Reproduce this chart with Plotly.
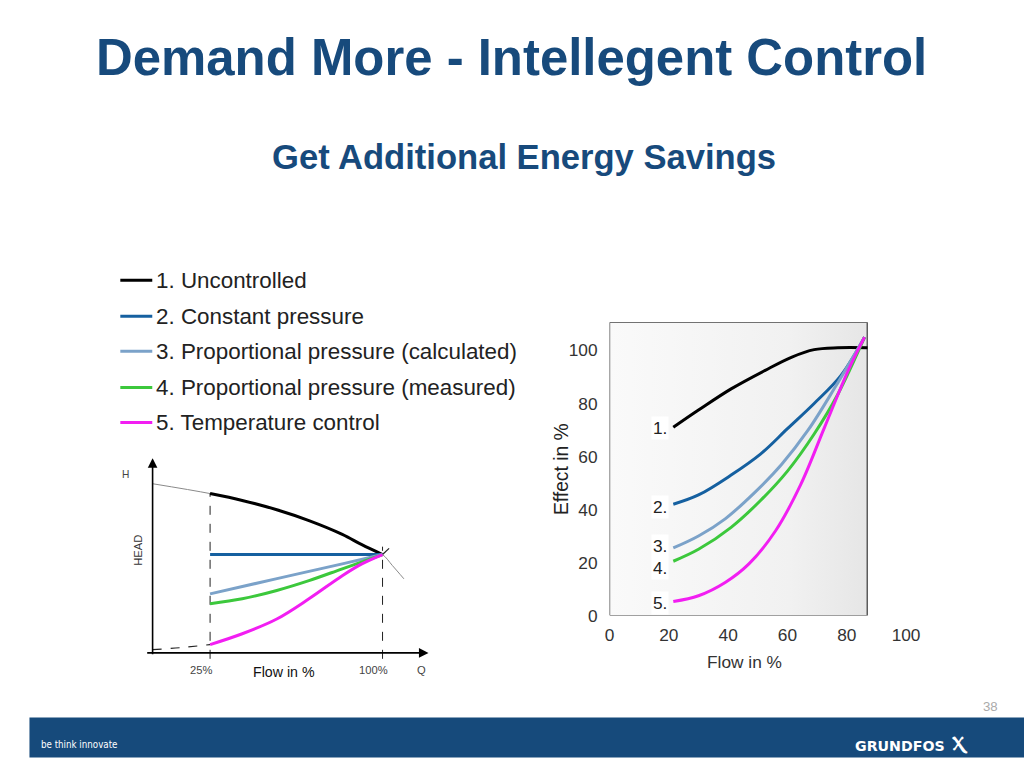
import plotly.graph_objects as go

# ---------------- data ----------------
legend_labels = ["1. Uncontrolled", "2. Constant pressure",
                 "3. Proportional pressure (calculated)",
                 "4. Proportional pressure (measured)", "5. Temperature control"]
colors = ["#000000", "#1560a0", "#7ba2c9", "#3cc83c", "#f21ef2"]

# left schematic: head vs flow
pump_x = [25, 39, 54, 68, 82.5, 91, 100]
pump_y = [162, 155, 145.5, 134.5, 120.5, 110, 100]
pump_full_x = [0, 25, 39, 54, 68, 82.5, 91, 100, 104.3, 109.3]
pump_full_y = [172, 162, 155, 145.5, 134.5, 120.5, 110, 100, 88.8, 75.3]
const_x = [25, 100]
const_y = [100, 100]
propc_x = [25, 53.6, 82.5, 100]
propc_y = [60, 75.3, 90.5, 100]
propm_x = [25, 39, 54, 68, 82.5, 100]
propm_y = [50, 55, 63.5, 73.5, 85.5, 100]
temp_x = [25, 39, 54, 68, 82.5, 91, 100]
temp_y = [8.5, 19.5, 34.5, 55, 78.5, 90.5, 100]
sys_low_x = [0, 12, 25]
sys_low_y = [3.4, 5.3, 8.5]
sys_high_x = [100, 105.7]
sys_high_y = [100, 112.5]
left_ticks = ["25%", "100%"]
left_tick_x = [25, 100]

# right chart: effect vs flow
flow1 = [21.5, 30, 41, 52.5, 61.5, 69, 77, 87]
eff1 = [71, 77.5, 85.5, 92.5, 97.5, 100.3, 101, 101]
flow2 = [21.5, 30, 41, 51, 60, 69, 78, 86]
eff2 = [42, 45.5, 53, 61, 70.5, 80, 90.5, 105]
flow3 = [21.5, 30, 39, 49, 58, 67, 76, 86]
eff3 = [25.5, 30, 36.5, 46.5, 57, 70, 86, 105]
flow4 = [21.5, 30, 41, 51, 60, 69, 77, 86]
eff4 = [20.5, 25, 33.3, 43.5, 54.5, 68.5, 83.5, 105]
flow5 = [21.5, 30, 39, 47, 56, 64.5, 72.5, 80.5, 86]
eff5 = [5.3, 7.5, 12.5, 19.5, 32, 49.5, 71, 92.5, 105]
curve_tags = ["1.", "2.", "3.", "4.", "5."]
tag_y = [70.8, 40.9, 26.4, 18, 4.6]
tag_x = 17.1
x_ticks = [0, 20, 40, 60, 80, 100]
y_ticks = [0, 20, 40, 60, 80, 100]
frame_x = [0, 86.9]
frame_y = [0, 110.6]

FONT = "Liberation Sans, Arial, Helvetica, sans-serif"
TITLE_BLUE = "#174a7c"

# target-pixel -> paper helpers (with a small correction for the capture scaling)
SX, OX, SY = 0.983, 5.5, 0.986

def px(x):
    return ((x - OX) / SX) / 1024

def py(y):
    return 1 - (y / SY) / 768

def fs(s):
    return round(s / SX, 1)

fig = go.Figure()

# ---------- left schematic ----------
L = dict(xaxis="x", yaxis="y", showlegend=False, hoverinfo="skip")
fig.add_trace(go.Scatter(x=pump_full_x, y=pump_full_y, mode="lines",
                         line=dict(color="#8a8a8a", width=1, shape="spline"), **L))
fig.add_trace(go.Scatter(x=[left_tick_x[0]] * 2, y=[-6, pump_y[0]], mode="lines",
                         line=dict(color="#222", width=1, dash="dash"), **L))
fig.add_trace(go.Scatter(x=[left_tick_x[1]] * 2, y=[-6, 108], mode="lines",
                         line=dict(color="#222", width=1, dash="dash"), **L))
fig.add_trace(go.Scatter(x=sys_low_x, y=sys_low_y, mode="lines",
                         line=dict(color="#222", width=1.2, dash="dash", shape="spline"), **L))
fig.add_trace(go.Scatter(x=sys_high_x, y=sys_high_y, mode="lines",
                         line=dict(color="#222", width=1.2, dash="dash"), **L))
left_series = [(pump_x, pump_y), (const_x, const_y), (propc_x, propc_y),
               (propm_x, propm_y), (temp_x, temp_y)]
for (sx, sy), c in zip(left_series, colors):
    fig.add_trace(go.Scatter(x=sx, y=sy, mode="lines",
                             line=dict(color=c, width=3, shape="spline"), **L))

# ---------- right chart ----------
fig.add_trace(go.Scatter(
    x=[frame_x[0], frame_x[1], frame_x[1], frame_x[0], frame_x[0]],
    y=[frame_y[0], frame_y[0], frame_y[1], frame_y[1], frame_y[0]],
    mode="lines", line=dict(color="#444", width=1.3), fill="toself",
    fillgradient=dict(type="horizontal",
                      colorscale=[[0, "#fafafa"], [0.7, "#f1f1f1"], [1, "#e6e6e6"]]),
    xaxis="x2", yaxis="y2", showlegend=False, hoverinfo="skip"))
right_series = [(flow1, eff1), (flow2, eff2), (flow3, eff3), (flow4, eff4), (flow5, eff5)]
for (sx, sy), c, name in zip(right_series, colors, legend_labels):
    fig.add_trace(go.Scatter(x=sx, y=sy, mode="lines", name=name,
                             line=dict(color=c, width=3, shape="spline"),
                             xaxis="x2", yaxis="y2", showlegend=False))

annotations = []
for t, ty in zip(curve_tags, tag_y):
    annotations.append(dict(x=tag_x, y=ty, xref="x2", yref="y2", text=t, showarrow=False,
                            xanchor="center", yanchor="middle",
                            bgcolor="white", font=dict(family=FONT, size=fs(17), color="#222"),
                            borderpad=1))

# axis arrows for left schematic
annotations.append(dict(x=0, y=198, ax=0, ay=-3, xref="x", yref="y", axref="x", ayref="y",
                        text="", showarrow=True, arrowhead=2, arrowsize=1.2, arrowwidth=1.6,
                        arrowcolor="#000"))
annotations.append(dict(x=120, y=0, ax=-3, ay=0, xref="x", yref="y", axref="x", ayref="y",
                        text="", showarrow=True, arrowhead=2, arrowsize=1.2, arrowwidth=1.6,
                        arrowcolor="#000"))
for lx, lt in zip(left_tick_x, left_ticks):
    annotations.append(dict(x=lx - 4, y=py(669), xref="x", yref="paper", text=lt,
                            showarrow=False, xanchor="center", yanchor="middle",
                            font=dict(family=FONT, size=fs(11), color="#444")))

def ptext(x, y, text, size, color, family=FONT, xanchor="center", angle=0):
    return dict(x=px(x), y=py(y), xref="paper", yref="paper", text=text, showarrow=False,
                xanchor=xanchor, yanchor="middle", textangle=angle,
                font=dict(family=family, size=fs(size), color=color))

annotations += [
    ptext(285, 671, "Flow in %", 14, "#111"),
    ptext(423, 669, "Q", 11, "#444"),
    ptext(126, 474, "H", 10, "#444"),
    ptext(138, 550, "HEAD", 11, "#333", angle=-90),
    ptext(563, 469, "Effect in %", 19, "#222", angle=-90),
    ptext(746, 661, "Flow in %", 17, "#333"),
    ptext(512.5, 57, "<b>Demand More - Intellegent Control</b>", 50, TITLE_BLUE),
    ptext(525.5, 157, "<b>Get Additional Energy Savings</b>", 34, TITLE_BLUE),
    ptext(40, 744, "be think innovate", 9.5, "white",
          family="DejaVu Sans Condensed, DejaVu Sans", xanchor="left"),
    ptext(855, 745, "<b>GRUNDFOS</b>", 14, "white", family="DejaVu Sans", xanchor="left"),
    ptext(962, 742, "<b>Ⲭ</b>", 20, "white", family="DejaVu Sans"),
    ptext(993, 706, "38", 13, "#aaaaaa"),
]

# manual legend
legend_y = [280, 316, 351, 387, 422]
shapes = []
for lab, c, ly in zip(legend_labels, colors, legend_y):
    shapes.append(dict(type="line", xref="paper", yref="paper", x0=px(121), x1=px(153),
                       y0=py(ly), y1=py(ly), line=dict(color=c, width=3)))
    annotations.append(ptext(155, ly, lab, 22, "#222", xanchor="left"))

# footer band
shapes.append(dict(type="rect", xref="paper", yref="paper", x0=px(30), x1=px(1030),
                   y0=py(756.7), y1=py(716.7), fillcolor="#164a7b", line=dict(width=0),
                   layer="below"))

fig.update_layout(
    width=1024, height=768, margin=dict(l=0, r=0, t=0, b=0),
    paper_bgcolor="white", plot_bgcolor="rgba(0,0,0,0)",
    font=dict(family=FONT),
    xaxis=dict(domain=[px(130.3), px(441.2)], range=[-10, 125], visible=False),
    yaxis=dict(domain=[py(662.1), py(445.9)], range=[-10, 210], visible=False),
    xaxis2=dict(domain=[px(611), px(908)], range=[0, 100], anchor="y2",
                showgrid=False, zeroline=False, showline=False, ticks="",
                tickvals=x_ticks, ticktext=[str(v) for v in x_ticks],
                tickfont=dict(family=FONT, size=fs(17), color="#333"), ticklabelstandoff=7),
    yaxis2=dict(domain=[py(615), py(322)], range=[0, 110.6], anchor="x2",
                showgrid=False, zeroline=False, showline=False, ticks="",
                tickvals=y_ticks, ticktext=[str(v) for v in y_ticks],
                tickfont=dict(family=FONT, size=fs(17), color="#333"), ticklabelstandoff=11),
    annotations=annotations, shapes=shapes, showlegend=False,
)

page_fix = (
    "document.documentElement.style.margin='0';"
    "document.documentElement.style.overflow='hidden';"
    "document.body.style.margin='0';"
    "document.body.style.overflow='hidden';"
)
fig.write_html("out.html", post_script=page_fix, config={"displayModeBar": False})
